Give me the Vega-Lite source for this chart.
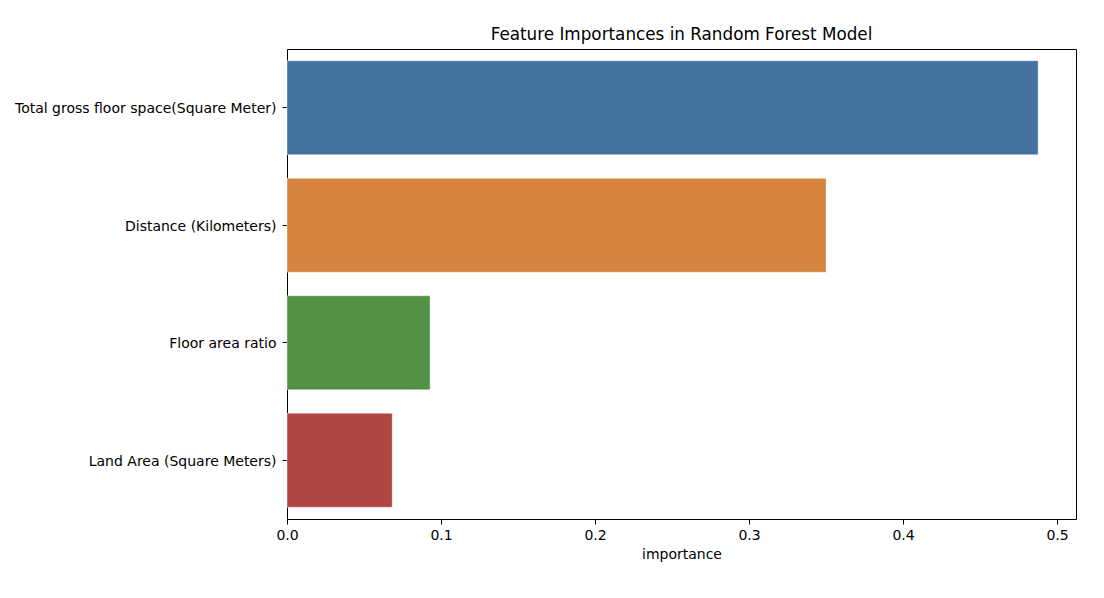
{
  "$schema": "https://vega.github.io/schema/vega-lite/v6.json",
  "width": 789,
  "height": 470,
  "autosize": {"type": "none"},
  "padding": {"left": 287, "top": 49, "right": 28, "bottom": 79},
  "background": "white",
  "title": {
    "text": "Feature Importances in Random Forest Model",
    "font": "DejaVu Sans",
    "fontSize": 16.8,
    "fontWeight": "normal",
    "color": "black",
    "offset": 5,
    "anchor": "middle"
  },
  "config": {
    "view": {"stroke": "black", "strokeWidth": 1},
    "axis": {
      "labelFont": "DejaVu Sans",
      "titleFont": "DejaVu Sans",
      "labelFontSize": 14,
      "titleFontSize": 14,
      "titleFontWeight": "normal",
      "labelColor": "black",
      "titleColor": "black",
      "domainColor": "black",
      "tickColor": "black",
      "tickSize": 5,
      "grid": false
    }
  },
  "data": {
    "values": [
      {"feature": "Total gross floor space(Square Meter)", "importance": 0.4877},
      {"feature": "Distance (Kilometers)", "importance": 0.3500},
      {"feature": "Floor area ratio", "importance": 0.0929},
      {"feature": "Land Area (Square Meters)", "importance": 0.0683}
    ]
  },
  "mark": {"type": "bar", "stroke": "white", "strokeWidth": 0.8, "strokeOpacity": 0.5},
  "encoding": {
    "y": {
      "field": "feature",
      "type": "nominal",
      "sort": null,
      "title": null,
      "scale": {"paddingInner": 0.2, "paddingOuter": 0.1},
      "axis": {"labelPadding": 6, "labelLimit": 0, "labelOffset": 1.5, "domain": false}
    },
    "x": {
      "field": "importance",
      "type": "quantitative",
      "title": "importance",
      "scale": {"domain": [0, 0.5123], "nice": false, "zero": true},
      "axis": {
        "values": [0, 0.1, 0.2, 0.3, 0.4, 0.5],
        "format": ".1f",
        "labelFlush": false,
        "labelPadding": 4,
        "titlePadding": 5,
        "domain": false
      }
    },
    "color": {
      "field": "feature",
      "type": "nominal",
      "sort": null,
      "legend": null,
      "scale": {
        "domain": ["Total gross floor space(Square Meter)", "Distance (Kilometers)", "Floor area ratio", "Land Area (Square Meters)"],
        "range": ["#44739f", "#d4843f", "#529246", "#b04644"]
      }
    }
  }
}
